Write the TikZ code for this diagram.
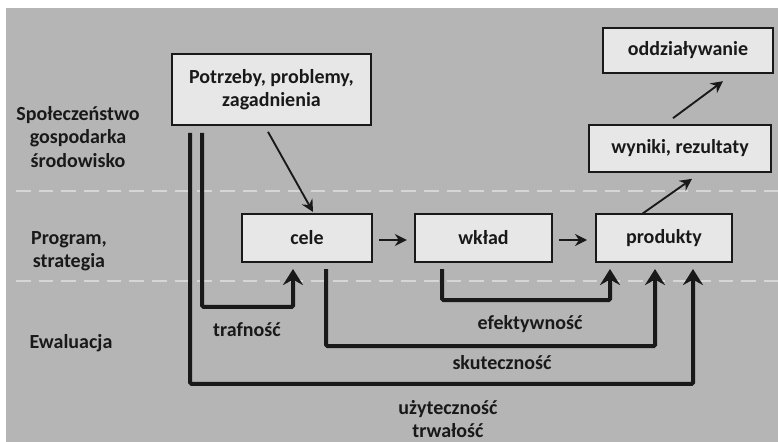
\documentclass[tikz,border=0pt]{standalone}
\usepackage{fontspec}
\setmainfont{Carlito}
\usetikzlibrary{arrows.meta}
\definecolor{bggray}{RGB}{181,181,181}
\definecolor{boxgray}{RGB}{231,231,231}
\definecolor{dashgray}{RGB}{214,214,214}
\definecolor{ink}{RGB}{25,25,25}

\begin{document}
\begin{tikzpicture}[x=0.75pt, y=-0.75pt,
  lbl/.style={font=\fontsize{15}{17.5}\selectfont\bfseries, text=ink, align=center, inner sep=0pt},
  thin/.style={draw=ink, line width=1.4pt, -{Stealth[length=9pt, width=9pt, inset=3pt]}},
  thick/.style={draw=ink, line width=3pt, rounded corners=1pt, -{Stealth[length=12pt, width=15pt, inset=4pt]}}]
\tikzstyle{blk}=[draw=ink, line width=1.5pt, fill=boxgray, font=\fontsize{15}{17.5}\selectfont\bfseries, text=ink, align=center, inner sep=0pt]
\useasboundingbox (0,0) rectangle (778,442);
\fill[bggray] (6,8) rectangle (778,442);
\foreach \y in {191,281}{\draw[dashgray, line width=1.6pt, dash pattern=on 11pt off 6pt] (16,\y) -- (778,\y);}
% rows on the left
\node[lbl] (soc) at (78,137) {Społeczeństwo\\gospodarka\\środowisko};
\node[lbl] (prog) at (69,251) {Program,\\strategia};
\node[lbl] (ewal) at (71,343) {Ewaluacja};
% boxes
\node[blk, minimum width=149pt, minimum height=53pt] (pot) at (271.5,89.5) {Potrzeby, problemy,\\zagadnienia};
\node[blk, minimum width=127.5pt, minimum height=34pt] (odd) at (688,50.5) {oddziaływanie};
\node[blk, minimum width=136.5pt, minimum height=35pt] (wyn) at (680,148.5) {wyniki, rezultaty};
\node[blk, minimum width=97.5pt, minimum height=36pt] (cele) at (307,238) {cele};
\node[blk, minimum width=103pt, minimum height=36pt] (wk) at (483.5,238) {wkład};
\node[blk, minimum width=102pt, minimum height=36pt] (prod) at (664,238) {produkty};
% thin arrows
\draw[thin] ([shift={(-3.5,6)}]pot.south) -- ([shift={(6,-1)}]cele.north);
\draw[thin] ([shift={(6,2)}]cele.east) -- ([shift={(-7,2)}]wk.west);
\draw[thin] ([shift={(6,2)}]wk.east) -- ([shift={(-8,2)}]prod.west);
\draw[thin] ([shift={(-22,1)}]prod.north) -- ([shift={(12,6)}]wyn.south);
\draw[thin] ([shift={(-7,-6)}]wyn.north) -- ([shift={(35,7)}]odd.south);
% evaluation criteria
\draw[thick] ([shift={(19,7)}]pot.south west) -- ++(0,251) -| ([shift={(29,6)}]prod.south);
\draw[thick] ([shift={(31,7)}]pot.south west) -- ++(0,174) -| ([shift={(-14,6)}]cele.south);
\draw[thick] ([shift={(19,6)}]cele.south) -- ++(0,77) -| ([shift={(-9,6)}]prod.south);
\draw[thick] ([shift={(-41.5,6)}]wk.south) -- ++(0,31) -| ([shift={(-54,6)}]prod.south);
\node[lbl] (traf) at (247,330) {trafność};
\node[lbl] (efek) at (530,324) {efektywność};
\node[lbl] (skut) at (502,363) {skuteczność};
\node[lbl] (uzyt) at (448,419) {użyteczność\\trwałość};
\end{tikzpicture}
\end{document}
